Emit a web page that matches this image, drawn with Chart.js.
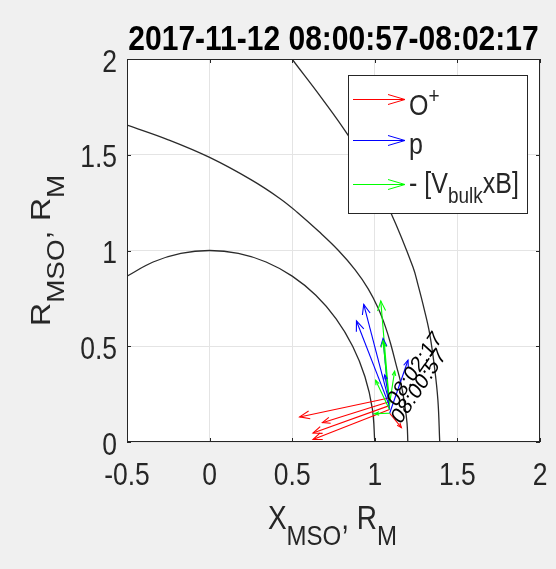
<!DOCTYPE html>
<html><head><meta charset="utf-8">
<style>html,body{margin:0;padding:0;background:#f0f0f0;}canvas{display:block}</style>
<script src="https://cdn.jsdelivr.net/npm/chart.js@4/dist/chart.umd.min.js"></script>
</head><body>
<canvas id="c" width="556" height="569"></canvas>
<script>
// ---------- data ----------
const titleText = '2017-11-12 08:00:57-08:02:17';
const xTickValues = [-0.5, 0, 0.5, 1, 1.5, 2];
const xTickLabels = ['-0.5', '0', '0.5', '1', '1.5', '2'];
const yTickValues = [0, 0.5, 1, 1.5, 2];
const yTickLabels = ['0', '0.5', '1', '1.5', '2'];

// planet surface
const planetX = [1.000, 0.985, 0.940, 0.866, 0.766, 0.643, 0.500, 0.342, 0.174, 0.000, -0.174, -0.342, -0.500];
const planetY = [0.000, 0.174, 0.342, 0.500, 0.643, 0.766, 0.866, 0.940, 0.985, 1.000, 0.985, 0.940, 0.866];
// magnetopause
const mpX = [1.200, 1.195, 1.180, 1.160, 1.130, 1.100, 1.065, 1.020, 0.960, 0.880, 0.780, 0.660, 0.530, 0.425, 0.250, 0.000, -0.250, -0.500];
const mpY = [0.000, 0.100, 0.200, 0.300, 0.400, 0.500, 0.600, 0.700, 0.800, 0.900, 1.000, 1.100, 1.200, 1.272, 1.370, 1.486, 1.578, 1.655];
// bow shock
const bsX = [0.440, 0.499, 0.675, 0.838, 0.975, 1.099, 1.231, 1.262, 1.300, 1.332, 1.360, 1.382, 1.393];
const bsY = [2.070, 2.000, 1.800, 1.602, 1.400, 1.193, 0.914, 0.819, 0.690, 0.566, 0.400, 0.218, 0.000];

// spacecraft positions (arrow origins)
const trajX = [1.090, 1.089, 1.088, 1.087, 1.086];
const trajY = [0.150, 0.170, 0.190, 0.210, 0.230];
// O+ velocity vectors
const oxU = [0.071, -0.463, -0.462, -0.404, -0.541];
const oxV = [-0.075, -0.157, -0.143, -0.109, -0.099];
// proton velocity vectors
const pU = [0.111, -0.039, -0.199, -0.154, -0.026];
const pV = [0.277, 0.370, 0.442, 0.509, 0.120];
// -[Vbulk x B] vectors
const eU = [-0.091, -0.084, 0.032, -0.037, -0.050];
const eV = [-0.002, 0.152, 0.180, 0.320, 0.507];

const timeLabels = ['08:00:57', '08:02:17'];
const timeLabelX = [1.118, 1.093];
const timeLabelY = [0.115, 0.205];

const legendLabels = ['O+', 'p', '- [VbulkxB]'];
const COLORS = {ox: '#ff0000', p: '#0000ff', e: '#00ff00'};

// ---------- build datasets ----------
const S = 1.16;  // vertical text stretch of reference
const FONT = '"Liberation Sans", Arial, Helvetica, sans-serif';
const TXT = '#262626';

function curve(xs, ys) {
  return {data: xs.map((x, i) => ({x: x, y: ys[i]})), showLine: true, borderColor: '#2a2a2a',
    borderWidth: 1.3, pointRadius: 0, tension: 0.4, order: 10, fill: false};
}
const datasets = [curve(planetX, planetY), curve(mpX, mpY), curve(bsX, bsY)];
function arrows(u, v, color, order) {
  trajX.forEach((x0, i) => {
    datasets.push({data: [{x: x0, y: trajY[i]}, {x: x0 + u[i], y: trajY[i] + v[i]}], showLine: true,
      borderColor: color, borderWidth: 1.1, pointRadius: 0, tension: 0, order: order, arrow: true});
  });
}
arrows(oxU, oxV, COLORS.ox, 3);
arrows(pU, pV, COLORS.p, 2);
arrows(eU, eV, COLORS.e, 1);

// ---------- text helper ----------
function drawParts(ctx, parts, x, y, align, rot) {
  ctx.save();
  ctx.translate(x, y);
  ctx.scale(1, S);
  if (rot) ctx.rotate(rot);
  ctx.textBaseline = 'alphabetic';
  ctx.textAlign = 'left';
  let w = 0;
  parts.forEach(p => {
    ctx.font = (p.bold ? 'bold ' : '') + p.size + 'px ' + FONT;
    p.w = ctx.measureText(p.t).width; w += p.w;
  });
  let cx = align === 'center' ? -w / 2 : (align === 'right' ? -w : 0);
  parts.forEach(p => {
    ctx.font = (p.bold ? 'bold ' : '') + p.size + 'px ' + FONT;
    ctx.fillStyle = p.color || TXT;
    ctx.fillText(p.t, cx, p.dy || 0);
    cx += p.w;
  });
  ctx.restore();
}

function drawHead(ctx, x0, y0, x1, y1, len, half) {
  const a = Math.atan2(y1 - y0, x1 - x0);
  const c = Math.cos(a), s = Math.sin(a);
  ctx.beginPath();
  ctx.moveTo(x1 - len * c - half * s, y1 - len * s + half * c);
  ctx.lineTo(x1, y1);
  ctx.lineTo(x1 - len * c + half * s, y1 - len * s - half * c);
  ctx.stroke();
}

const framePlugin = {
  id: 'frame',
  beforeDraw(chart) {
    const ctx = chart.ctx, a = chart.chartArea;
    ctx.save();
    ctx.fillStyle = '#f0f0f0';
    ctx.fillRect(0, 0, chart.width, chart.height);
    ctx.fillStyle = '#ffffff';
    ctx.fillRect(a.left, a.top, a.right - a.left, a.bottom - a.top);
    ctx.restore();
  },
  afterDatasetsDraw(chart) {
    const ctx = chart.ctx, a = chart.chartArea;
    ctx.save();
    ctx.beginPath();
    ctx.rect(a.left, a.top, a.right - a.left, a.bottom - a.top);
    ctx.clip();
    ctx.lineWidth = 1.1;
    chart.data.datasets.forEach((ds, i) => {
      if (!ds.arrow) return;
      const m = chart.getDatasetMeta(i);
      const p0 = m.data[0], p1 = m.data[1];
      const L = Math.hypot(p1.x - p0.x, p1.y - p0.y);
      const hl = Math.max(4.5, Math.min(10, L * 0.11));
      ctx.strokeStyle = ds.borderColor;
      drawHead(ctx, p0.x, p0.y, p1.x, p1.y, hl, hl * 0.4);
    });
    ctx.restore();
    // time labels
    const xs = chart.scales.x, ys = chart.scales.y;
    timeLabels.forEach((t, i) => {
      const px = xs.getPixelForValue(timeLabelX[i]);
      const py = ys.getPixelForValue(timeLabelY[i]);
      drawParts(ctx, [{t: t, size: 19.5, color: '#000', dy: 7.5}], px, py, 'left', -52 * Math.PI / 180);
    });
  },
  afterDraw(chart) {
    const ctx = chart.ctx, a = chart.chartArea;
    const xs = chart.scales.x, ys = chart.scales.y;
    ctx.save();
    // tick marks (inward)
    ctx.strokeStyle = TXT; ctx.lineWidth = 1;
    ctx.beginPath();
    xTickValues.forEach(v => {
      const px = Math.round(xs.getPixelForValue(v)) + 0.5;
      ctx.moveTo(px, a.bottom); ctx.lineTo(px, a.bottom - 4);
      ctx.moveTo(px, a.top); ctx.lineTo(px, a.top + 4);
    });
    yTickValues.forEach(v => {
      const py = Math.round(ys.getPixelForValue(v)) + 0.5;
      ctx.moveTo(a.left, py); ctx.lineTo(a.left + 4, py);
      ctx.moveTo(a.right, py); ctx.lineTo(a.right - 4, py);
    });
    ctx.stroke();
    // box
    ctx.strokeRect(a.left + 0.5, a.top + 0.5, a.right - a.left - 1, a.bottom - a.top - 1);
    ctx.restore();
    // tick labels
    xTickValues.forEach((v, i) => {
      drawParts(ctx, [{t: xTickLabels[i], size: 26.5}], xs.getPixelForValue(v), 485, 'center');
    });
    yTickValues.forEach((v, i) => {
      drawParts(ctx, [{t: yTickLabels[i], size: 26.5}], 117, ys.getPixelForValue(v) + 12.5, 'right');
    });
    // title
    drawParts(ctx, [{t: titleText, size: 30, bold: true, color: '#000'}], (a.left + a.right) / 2, 50, 'center');
    // axis titles
    drawParts(ctx, [{t: 'X', size: 28}, {t: 'MSO', size: 24, dy: 13.5}, {t: ', R', size: 28}, {t: 'M', size: 24, dy: 13.5}],
      (a.left + a.right) / 2 - 1, 529, 'center');
    drawParts(ctx, [{t: 'R', size: 28}, {t: 'MSO', size: 24, dy: 13.5}, {t: ', R', size: 28}, {t: 'M', size: 24, dy: 13.5}],
      50, (a.top + a.bottom) / 2, 'center', -Math.PI / 2);
    // legend
    const lx = 348, ly = 75, lw = 179, lh = 138;
    ctx.save();
    ctx.fillStyle = '#fff';
    ctx.fillRect(lx, ly, lw, lh);
    ctx.strokeStyle = TXT; ctx.lineWidth = 1;
    ctx.strokeRect(lx + 0.5, ly + 0.5, lw, lh);
    const rows = [{c: COLORS.ox, y: 99.5, b: 115}, {c: COLORS.p, y: 140.5, b: 153.5}, {c: COLORS.e, y: 184.5, b: 193}];
    rows.forEach(r => {
      ctx.strokeStyle = r.c; ctx.lineWidth = 1;
      ctx.beginPath(); ctx.moveTo(353, r.y); ctx.lineTo(405, r.y); ctx.stroke();
      drawHead(ctx, 353, r.y, 405, r.y, 17, 5);
    });
    ctx.restore();
    drawParts(ctx, [{t: 'O', size: 25}, {t: '+', size: 19, dy: -10}], 409, rows[0].b, 'left');
    drawParts(ctx, [{t: 'p', size: 25}], 409, rows[1].b, 'left');
    drawParts(ctx, [{t: '- [V', size: 25}, {t: 'bulk', size: 19, dy: 8.6}, {t: 'xB]', size: 25}], 409, rows[2].b, 'left');
  }
};

new Chart(document.getElementById('c'), {
  type: 'scatter',
  data: {datasets: datasets},
  options: {
    responsive: false, animation: false, devicePixelRatio: 1,
    layout: {padding: {top: 59, right: 16, left: 0, bottom: 0}},
    plugins: {legend: {display: false}, tooltip: {enabled: false}, title: {display: false}},
    scales: {
      x: {type: 'linear', min: -0.5, max: 2,
        afterBuildTicks: s => { s.ticks = xTickValues.map(v => ({value: v})); },
        afterFit: s => { s.height = 127; },
        ticks: {display: false}, border: {display: false},
        grid: {color: '#e4e4e4', lineWidth: 1, drawTicks: false}},
      y: {type: 'linear', min: 0, max: 2,
        afterBuildTicks: s => { s.ticks = yTickValues.map(v => ({value: v})); },
        afterFit: s => { s.width = 127; },
        ticks: {display: false}, border: {display: false},
        grid: {color: '#e4e4e4', lineWidth: 1, drawTicks: false}}
    }
  },
  plugins: [framePlugin]
});
</script>
</body></html>
